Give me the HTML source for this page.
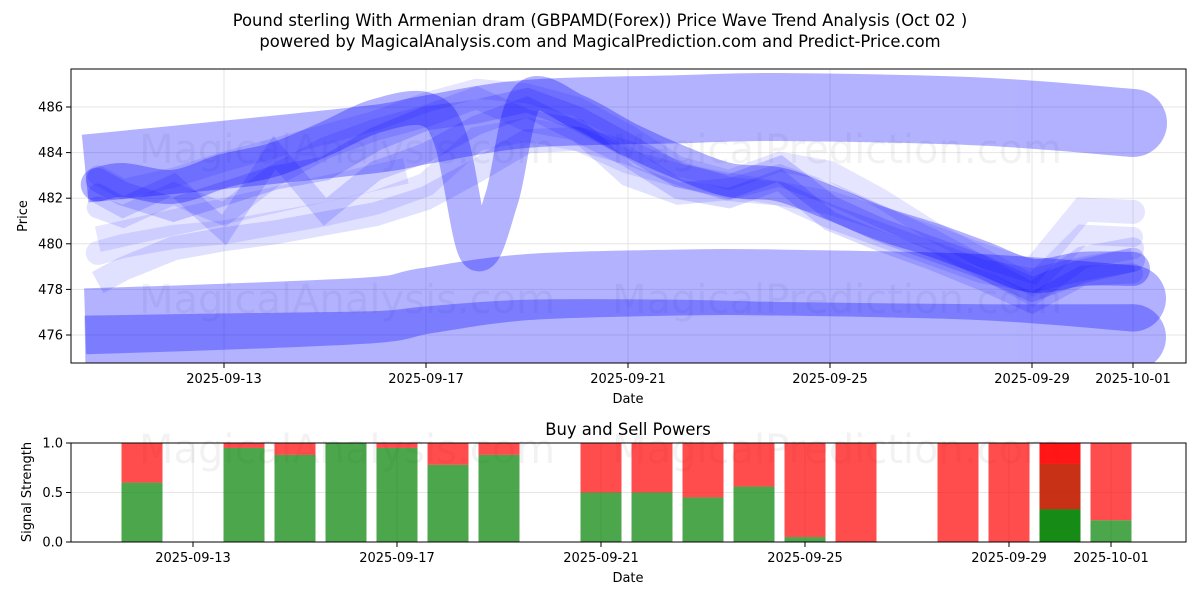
<!DOCTYPE html>
<html><head><meta charset="utf-8"><style>
body{margin:0;background:#fff;width:1200px;height:600px;overflow:hidden;font-family:"DejaVu Sans","Liberation Sans",sans-serif}
svg text{font-family:"DejaVu Sans","Liberation Sans",sans-serif}
</style></head><body>
<svg id="chart" width="1200" height="600" xmlns="http://www.w3.org/2000/svg">
<defs><clipPath id="clipTop"><rect x="71" y="69" width="1115" height="294"/></clipPath></defs>
<text x="600" y="26" font-size="16.4" text-anchor="middle">Pound sterling With Armenian dram (GBPAMD(Forex)) Price Wave Trend Analysis (Oct 02 )</text>
<text x="600" y="47" font-size="16.4" text-anchor="middle">powered by MagicalAnalysis.com and MagicalPrediction.com and Predict-Price.com</text>
<g id="top"></g>
<g id="bottom"></g>
</svg>
<script>
// ---- price chart data (t = days since 2025-09-10) ----
const wideDays = [0.25, 3, 6, 7, 9, 12, 14, 18, 21];
const wideTop = [483.3, 483.9, 484.6, 485.0, 485.7, 485.9, 486.0, 485.8, 485.3];
const wideMid = [476.6, 476.8, 477.1, 477.5, 478.1, 478.3, 478.3, 478.1, 477.6];
const wideLow = [475.4, 475.5, 475.6, 475.8, 476.1, 476.1, 476.0, 475.9, 475.9];
const vDays = [0.5, 1, 2, 3, 4, 5, 6, 7, 7.5, 8, 8.5, 9, 10, 11, 12, 13, 14, 15, 16, 17, 18, 19, 20, 21];
const vVals = [482.6, 482.8, 482.5, 483.2, 483.7, 484.6, 485.6, 485.9, 484.5, 479.6, 482.0, 486.4, 485.8, 484.6, 483.6, 482.8, 482.6, 481.8, 480.9, 480.2, 479.4, 478.6, 478.9, 478.9];
const dayGrid = [0.5, 1, 2, 3, 4, 5, 6, 7, 8, 9, 10, 11, 12, 13, 14, 15, 16, 17, 18, 19, 20, 21];
const band1 = [482.8, 482.2, 481.5, 482.2, 482.9, 483.3, 484.6, 485.5, 485.8, 486.3, 485.5, 484.3, 483.0, 482.5, 483.3, 481.6, 480.6, 479.8, 479.0, 478.0, 478.8, 479.3];
const band2 = [482.2, 481.6, 482.6, 480.6, 484.0, 481.4, 483.2, 484.0, 485.2, 486.0, 484.9, 483.8, 482.4, 482.0, 482.8, 481.0, 480.1, 479.3, 478.4, 477.4, 478.6, 478.7];
const band3 = [478.3, 478.9, 479.8, 480.2, 480.5, 480.9, 481.3, 482.0, 483.2, 484.5, 484.6, 484.0, 483.1, 482.4, 482.2, 481.2, 480.4, 479.6, 478.8, 478.4, 478.9, 479.3];
const band4 = [479.6, 479.9, 480.3, 480.5, 480.9, 481.3, 481.8, 482.6, 484.6, 485.0, 484.6, 483.6, 483.0, 482.6, 482.2, 481.8, 481.1, 480.3, 479.5, 478.8, 481.5, 481.4];
const band5 = [483.0, 482.4, 482.9, 483.6, 484.2, 484.8, 485.4, 486.2, 486.8, 486.6, 486.0, 484.8, 483.4, 482.8, 483.6, 483.2, 482.0, 480.6, 479.4, 478.2, 480.4, 480.3];
const band6 = [481.6, 481.2, 482.2, 481.3, 483.0, 484.2, 485.0, 485.6, 486.4, 485.4, 485.0, 483.0, 482.2, 482.4, 483.0, 482.2, 481.2, 480.2, 479.0, 477.8, 479.4, 479.8];
const flatDays = [0.5, 6.6];
const flatVals = [480.2, 483.2];
const yTicks = [476, 478, 480, 482, 484, 486];
const xTickDays = [3, 7, 11, 15, 19, 21];
const xTickLabels = ['2025-09-13', '2025-09-17', '2025-09-21', '2025-09-25', '2025-09-29', '2025-10-01'];
// ---- signal chart data ----
const barDays = [2, 4, 5, 6, 7, 8, 9, 11, 12, 13, 14, 15, 16, 18, 19, 20, 20, 21];
const buyPower = [0.6, 0.95, 0.88, 1.0, 0.95, 0.78, 0.88, 0.5, 0.5, 0.45, 0.56, 0.05, 0.0, 0.0, 0.0, 0.79, 0.33, 0.22];
const sigTicks = [0, 0.5, 1.0];
const sigTickLabels = ['0.0', '0.5', '1.0'];

const NS = 'http://www.w3.org/2000/svg';
function mk(tag, attrs, parent) { const e = document.createElementNS(NS, tag); for (const k in attrs) e.setAttribute(k, attrs[k]); parent.appendChild(e); return e; }
const X = t => 224 + (t - 3) * 50.5;
const Y = v => 335 - (v - 476) * 22.8;
const topG = document.getElementById('top');
yTicks.forEach(v => { const l = mk('line', {x1: 71, x2: 1186, y1: Y(v), y2: Y(v), stroke: '#e6e6e6', 'stroke-width': 1}, topG);
    });
xTickDays.forEach(t => { const l = mk('line', {x1: X(t), x2: X(t), y1: 69, y2: 363, stroke: '#e6e6e6', 'stroke-width': 1}, topG);
    });
const wm = (x, y, s, p, name) => { const e = mk('text', {x: x, y: y, 'font-size': s, fill: 'rgba(0,0,0,0.05)', 'text-anchor': 'middle'}, p); e.textContent = name;
    };
wm(347, 163, 40, topG, 'MagicalAnalysis.com'); wm(837, 163, 40, topG, 'MagicalPrediction.com');
wm(347, 313, 40, topG, 'MagicalAnalysis.com'); wm(837, 313, 40, topG, 'MagicalPrediction.com');
const g = mk('g', {'clip-path': 'url(#clipTop)'}, topG);
function smooth(days, vals) {
  const p = days.map((d, i) => [X(d), Y(vals[i])]);
  let s = 'M' + p[0][0] + ',' + p[0][1];
  for (let i = 0; i < p.length - 1; i++) {
    const p0 = p[i - 1] || p[i], p1 = p[i], p2 = p[i + 1], p3 = p[i + 2] || p2;
    s += ' C' + (p1[0] + (p2[0] - p0[0]) / 6) + ',' + (p1[1] + (p2[1] - p0[1]) / 6) + ' ' + (p2[0] - (p3[0] - p1[0]) / 6) + ',' + (p2[1] - (p3[1] - p1[1]) / 6) + ' ' + p2[0] + ',' + p2[1];
  }
  return s;
}
function poly(days, vals) { return days.map((d, i) => (i ? 'L' : 'M') + X(d) + ',' + Y(vals[i])).join(' '); }
function band(d, name, w, op, cap, join, endDay, endVal) {
  const grp = mk('g', {opacity: op}, g);
   
  mk('path', {d: d, fill: 'none', stroke: 'rgb(0,0,255)', 'stroke-width': w, 'stroke-linecap': cap, 'stroke-linejoin': join}, grp);
  if (endDay !== undefined) mk('circle', {cx: X(endDay), cy: Y(endVal), r: w / 2, fill: 'rgb(0,0,255)'}, grp);
}
const last = a => a[a.length - 1];
band(smooth(wideDays, wideTop), 'wave-band-upper', 68, 0.3, 'butt', 'round', last(wideDays), last(wideTop));
band(smooth(wideDays, wideMid), 'wave-band-middle', 66, 0.3, 'butt', 'round', last(wideDays), last(wideMid));
band(smooth(wideDays, wideLow), 'wave-band-lower', 66, 0.3, 'butt', 'round', last(wideDays), last(wideLow));
band(poly(flatDays, flatVals), 'trend-line-flat', 26, 0.1, 'butt', 'miter');
band(poly(dayGrid, band3), 'wave-line-3', 24, 0.12, 'butt', 'miter');
band(poly(dayGrid, band4), 'wave-line-4', 24, 0.1, 'round', 'miter');
band(poly(dayGrid, band5), 'wave-line-5', 20, 0.1, 'round', 'miter');
band(poly(dayGrid, band6), 'wave-line-6', 22, 0.12, 'round', 'miter');
band(poly(dayGrid, band2), 'wave-line-2', 20, 0.14, 'round', 'miter');
band(poly(dayGrid, band1), 'wave-line-1', 24, 0.17, 'round', 'miter');
band(smooth(vDays, vVals), 'wave-line-v', 34, 0.3, 'round', 'round');
const fr = mk('rect', {x: 71, y: 69, width: 1115, height: 294, fill: 'none', stroke: '#000', 'stroke-width': 1}, topG);
 
yTicks.forEach(v => { mk('line', {x1: 66, x2: 71, y1: Y(v), y2: Y(v), stroke: '#000'}, topG);
  const t = mk('text', {x: 63, y: Y(v) + 4.5, 'font-size': 13, 'text-anchor': 'end'}, topG); t.textContent = v;
    });
xTickDays.forEach((d, i) => { mk('line', {x1: X(d), x2: X(d), y1: 363, y2: 368, stroke: '#000'}, topG);
  const t = mk('text', {x: X(d), y: 383, 'font-size': 13, 'text-anchor': 'middle'}, topG); t.textContent = xTickLabels[i];
    });
let t1 = mk('text', {x: 628, y: 403, 'font-size': 13, 'text-anchor': 'middle'}, topG); t1.textContent = 'Date';
 
t1 = mk('text', {x: 27, y: 216, 'font-size': 13, 'text-anchor': 'middle', transform: 'rotate(-90 27 216)'}, topG); t1.textContent = 'Price';
 

// ---- bottom ----
const botG = document.getElementById('bottom');
const BX = t => 193 + (t - 3) * 51;
const BY = v => 542 - v * 99;
sigTicks.forEach(v => { const l = mk('line', {x1: 71, x2: 1186, y1: BY(v), y2: BY(v), stroke: '#e6e6e6'}, botG);
    });
xTickDays.forEach(t => { const l = mk('line', {x1: BX(t), x2: BX(t), y1: 443, y2: 542, stroke: '#e6e6e6'}, botG);
    });
wm(347, 463, 40, botG, 'MagicalAnalysis.com'); wm(837, 463, 40, botG, 'MagicalPrediction.com');
barDays.forEach((d, i) => {
  const b = buyPower[i];
  const gr = mk('rect', {x: BX(d) - 20.5, y: BY(b), width: 41, height: BY(0) - BY(b), fill: 'rgb(0,128,0)', 'fill-opacity': 0.7}, botG);
   
  const rd = mk('rect', {x: BX(d) - 20.5, y: BY(1), width: 41, height: BY(b) - BY(1), fill: 'rgb(255,0,0)', 'fill-opacity': 0.7}, botG);
   
});
const fr2 = mk('rect', {x: 71, y: 443, width: 1115, height: 99, fill: 'none', stroke: '#000'}, botG);
 
sigTicks.forEach((v, i) => { mk('line', {x1: 66, x2: 71, y1: BY(v), y2: BY(v), stroke: '#000'}, botG);
  const t = mk('text', {x: 63, y: BY(v) + 4.5, 'font-size': 13, 'text-anchor': 'end'}, botG); t.textContent = sigTickLabels[i];
    });
xTickDays.forEach((d, i) => { mk('line', {x1: BX(d), x2: BX(d), y1: 542, y2: 547, stroke: '#000'}, botG);
  const t = mk('text', {x: BX(d), y: 562, 'font-size': 13, 'text-anchor': 'middle'}, botG); t.textContent = xTickLabels[i];
    });
t1 = mk('text', {x: 628, y: 582, 'font-size': 13, 'text-anchor': 'middle'}, botG); t1.textContent = 'Date';
 
t1 = mk('text', {x: 31, y: 492, 'font-size': 13, 'text-anchor': 'middle', transform: 'rotate(-90 31 492)'}, botG); t1.textContent = 'Signal Strength';
 
t1 = mk('text', {x: 628, y: 435, 'font-size': 16.4, 'text-anchor': 'middle'}, botG); t1.textContent = 'Buy and Sell Powers';
 
</script>
</body></html>
